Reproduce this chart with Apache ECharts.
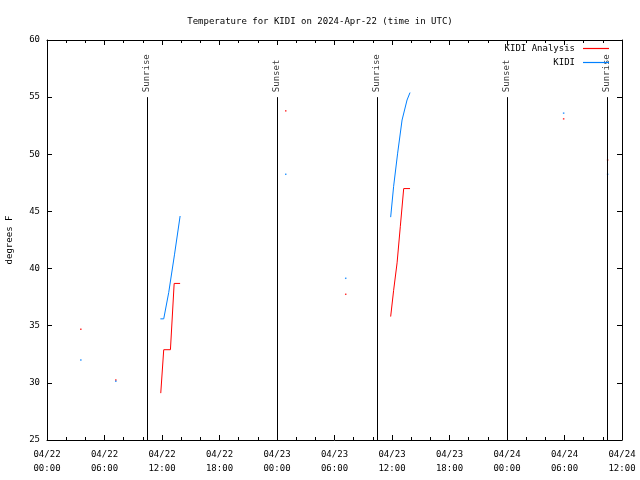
<!DOCTYPE html>
<html>
<head>
<meta charset="utf-8">
<script src="https://cdn.jsdelivr.net/npm/echarts@6/dist/echarts.min.js"></script>
<style>html,body{margin:0;padding:0;background:#fff}#c{width:640px;height:480px}</style>
</head>
<body>
<div id="c"></div>
<script>
// hours since 2024-04-22 00:00 UTC
const xTickLabels = ['04/22\n00:00','04/22\n06:00','04/22\n12:00','04/22\n18:00','04/23\n00:00','04/23\n06:00','04/23\n12:00','04/23\n18:00','04/24\n00:00','04/24\n06:00','04/24\n12:00'];
const yTicks = [25,30,35,40,45,50,55,60];

const analysisSeg1 = [[11.87,29.1],[12.18,32.9],[12.88,32.9],[13.27,38.7],[13.89,38.7]];
const analysisSeg2 = [[35.86,35.8],[36.17,38.1],[36.53,40.5],[36.87,43.7],[37.22,47.0],[37.88,47.0]];
const analysisDots = [[3.53,34.7],[7.18,30.25],[24.91,53.8],[31.17,37.75],[53.91,53.1],[58.5,49.5]];

const kidiSeg1 = [[11.83,35.6],[12.18,35.6],[12.7,37.9],[13.3,41.2],[13.89,44.6]];
const kidiSeg2 = [[35.86,44.5],[36.17,47.2],[36.59,50.1],[37.05,53.0],[37.57,54.75],[37.88,55.4]];
const kidiDots = [[3.53,32.0],[7.18,30.15],[24.91,48.25],[31.17,39.15],[53.91,53.6],[58.5,48.25]];

const sunTimes = [10.45, 24.0, 34.42, 47.98, 58.43];
const sunLabels = ['Sunrise','Sunset','Sunrise','Sunset','Sunrise'];
const sunTop = 55;

const FONT = 'DejaVu Sans Mono';
const RED = '#ff0000';
const BLUE = '#0080ff';

function lineSeries(name, data, color) {
  return {name, type:'line', data, symbol:'none', showSymbol:false, xAxisIndex:0, yAxisIndex:0,
    lineStyle:{color, width:1}, itemStyle:{color}, z:3};
}
function dotSeries(name, data, color) {
  return {name, type:'scatter', data, symbol:'rect', symbolSize:1.5, itemStyle:{color}, z:3};
}

const axisCommon = {
  axisLine:{show:true, onZero:false, lineStyle:{color:'#000', width:1}},
  axisTick:{show:true, inside:true, length:5, lineStyle:{color:'#000', width:1}},
  splitLine:{show:false}
};
const legendCommon = {align:'right', icon:'rect', itemWidth:26, itemHeight:1.2, itemGap:0, padding:0,
  textStyle:{fontFamily:FONT, fontSize:9, color:'#000', padding:[0,3,0,0]}};

const chart = echarts.init(document.getElementById('c'), null, {renderer:'canvas'});
chart.setOption({
  animation:false,
  backgroundColor:'#fff',
  title:{text:'Temperature for KIDI on 2024-Apr-22 (time in UTC)', left:'center', top:12,
    textStyle:{fontFamily:FONT, fontSize:9, fontWeight:'normal', color:'#000'}},
  grid:{left:47, right:18, top:40, bottom:40, containLabel:false, outerBoundsMode:'none'},
  legend:[
    Object.assign({data:['KIDI Analysis'], right:31, top:44}, legendCommon),
    Object.assign({data:['KIDI'], right:31, top:58}, legendCommon)
  ],
  xAxis:[
    Object.assign({type:'value', min:0, max:60, interval:6, position:'bottom',
      minorTick:{show:true, splitNumber:3, length:3, lineStyle:{color:'#000'}},
      axisLabel:{show:true, showMinLabel:true, showMaxLabel:true, fontFamily:FONT, fontSize:9, color:'#000', margin:8, lineHeight:14,
        formatter:(v)=>xTickLabels[Math.round(v/6)]}}, axisCommon),
    Object.assign({type:'value', min:0, max:60, interval:6, position:'top',
      minorTick:{show:true, splitNumber:3, length:3, lineStyle:{color:'#000'}},
      axisLabel:{show:false}}, axisCommon)
  ],
  yAxis:[
    Object.assign({type:'value', min:yTicks[0], max:yTicks[yTicks.length-1], interval:5, position:'left',
      name:'degrees F', nameLocation:'middle', nameGap:33, nameRotate:90,
      nameTextStyle:{fontFamily:FONT, fontSize:9, color:'#000'},
      axisLabel:{show:true, fontFamily:FONT, fontSize:9, color:'#000', margin:7}}, axisCommon),
    Object.assign({type:'value', min:yTicks[0], max:yTicks[yTicks.length-1], interval:5, position:'right',
      axisLabel:{show:false}}, axisCommon)
  ],
  series:[
    lineSeries('KIDI Analysis', analysisSeg1, RED),
    lineSeries('KIDI Analysis', analysisSeg2, RED),
    dotSeries('KIDI Analysis', analysisDots, RED),
    lineSeries('KIDI', kidiSeg1, BLUE),
    lineSeries('KIDI', kidiSeg2, BLUE),
    dotSeries('KIDI', kidiDots, BLUE),
    {type:'line', data:[], symbol:'none', silent:true,
      markLine:{silent:true, symbol:'none', animation:false, label:{show:false},
        lineStyle:{color:'#000', width:1, type:'solid'},
        data: sunTimes.map(t=>[{coord:[t, sunTop]},{coord:[t, yTicks[0]]}])}},
    {type:'scatter', symbolSize:0, silent:true,
      data: sunTimes.map((t,i)=>({value:[t, sunTop], label:{formatter:sunLabels[i]}})),
      label:{show:true, position:'top', distance:5, rotate:90, align:'left', verticalAlign:'middle',
        fontFamily:FONT, fontSize:9, color:'#000'}}
  ]
});
</script>
</body>
</html>
